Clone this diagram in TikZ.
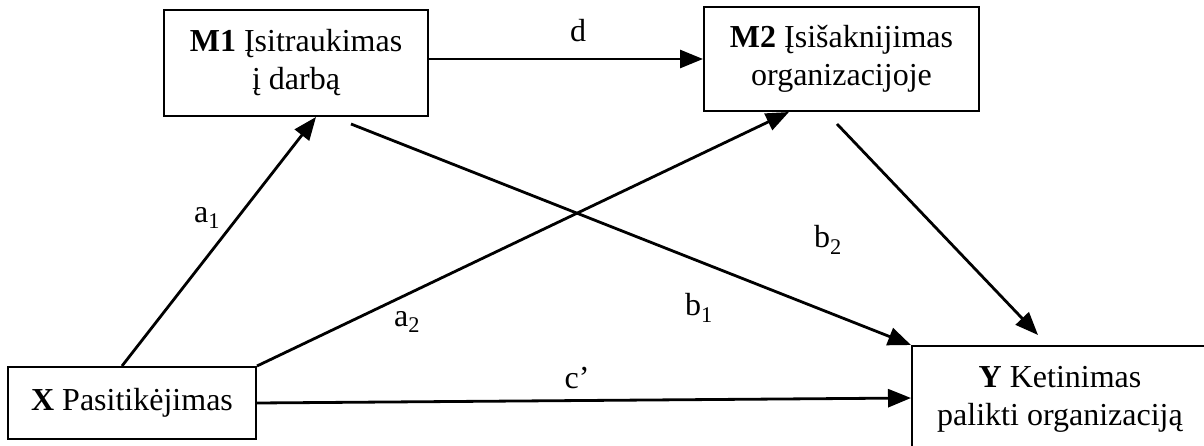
\documentclass[tikz,border=0pt]{standalone}
\usepackage{fontspec}
\setmainfont{Liberation Serif}
\usetikzlibrary{arrows.meta}
\begin{document}
\begin{tikzpicture}[x=1pt,y=-1pt,
  box/.style={draw,line width=2pt,align=center,inner sep=0pt,
    font=\fontsize{32}{38}\selectfont},
  arr/.style={line width=2.8pt,-{Triangle[length=23pt,width=18pt]}},
  lbl/.style={font=\fontsize{32}{38}\selectfont,inner sep=0pt}]
\useasboundingbox (0,0) rectangle (1204,446);
\clip (0,0) rectangle (1204,446);
\node[box,minimum width=264pt,minimum height=106pt] (M1) at (296,63) {\textbf{M1} Įsitraukimas\\ į darbą};
\node[box,minimum width=275pt,minimum height=104pt] (M2) at (841.5,59) {\textbf{M2} Įsišaknijimas\\ organizacijoje};
\node[box,minimum width=248pt,minimum height=72pt] (X) at (132,403) {\textbf{X} Pasitikėjimas};
\node[box,minimum width=296pt,minimum height=106pt] (Y) at (1060,399) {\textbf{Y} Ketinimas\\ palikti organizaciją};
\draw[arr] ([xshift=115pt]X.north west) -- ([xshift=153pt]M1.south west);
\draw[arr] (X.north east) -- ([xshift=86pt]M2.south west);
\draw[arr] ([xshift=188pt,yshift=-7pt]M1.south west) -- (Y.north west);
\draw[arr] ([xshift=134pt,yshift=-12pt]M2.south west) -- ([xshift=127pt,yshift=10pt]Y.north west);
\draw[arr] ([yshift=4pt]M1.east) -- ([yshift=4pt]M1.east -| M2.west);
\draw[arr] ([yshift=0pt]X.east) -- ([yshift=1pt]Y.west);
\node[lbl] (la1) at (207,218) {a\textsubscript{1}};
\node[lbl] (la2) at (407,322) {a\textsubscript{2}};
\node[lbl] (lb1) at (699,308) {b\textsubscript{1}};
\node[lbl] (lb2) at (828,240) {b\textsubscript{2}};
\node[lbl] (ld) at (578,31) {d};
\node[lbl] (lc) at (577,378) {c’};
\end{tikzpicture}
\end{document}
